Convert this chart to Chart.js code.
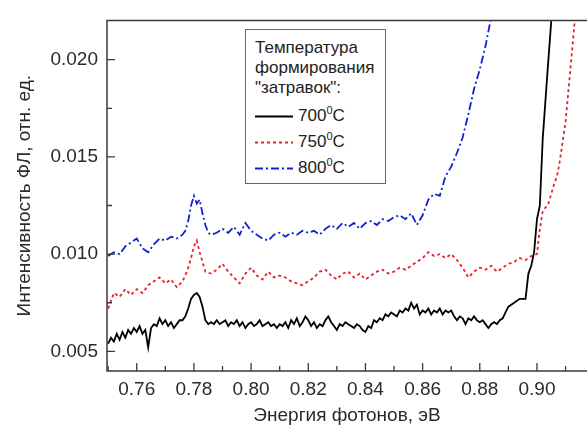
<!DOCTYPE html>
<html>
<head>
<meta charset="utf-8">
<script src="https://cdn.jsdelivr.net/npm/chart.js@4.4.1/dist/chart.umd.min.js"></script>
<style>
  body { margin: 0; background: #fff; }
  #wrap { position: relative; width: 587px; height: 427px; }
  #legend {
    position: absolute; left: 245px; top: 29px; width: 139px; height: 153px;
    border: 1px solid #666; background: #fff;
    font-family: "Liberation Sans", Arial, sans-serif; font-size: 17px; color: #222;
  }
  #legend .ttl { position: absolute; left: 9px; top: 8px; line-height: 20px; }
  #legend .row { position: absolute; left: 9px; height: 20px; line-height: 20px; }
  #legend .row svg { position: absolute; left: 0; top: 9px; }
  #legend .row span { position: absolute; left: 43px; top: 0; white-space: nowrap; }
  #legend sup { font-size: 11px; vertical-align: 7px; line-height: 0; }
</style>
</head>
<body>
<div id="wrap">
  <canvas id="myChart" width="587" height="427"></canvas>
  <div id="legend">
    <div class="ttl">Температура<br>формирования<br>"затравок":</div>
    <div class="row" style="top:76px"><svg width="38" height="3"><line x1="0" y1="1.5" x2="38" y2="1.5" stroke="#000" stroke-width="2"/></svg><span>700<sup>0</sup>C</span></div>
    <div class="row" style="top:102px"><svg width="38" height="3"><line x1="0" y1="1.5" x2="38" y2="1.5" stroke="#e8202a" stroke-width="2" stroke-dasharray="3,3"/></svg><span>750<sup>0</sup>C</span></div>
    <div class="row" style="top:128px"><svg width="38" height="3"><line x1="0" y1="1.5" x2="38" y2="1.5" stroke="#1020d0" stroke-width="2" stroke-dasharray="8,3,2,3"/></svg><span>800<sup>0</sup>C</span></div>
  </div>
</div>
<script>
// photon energy, eV / PL intensity, arb. units
var x700 = [0.750,0.751,0.752,0.753,0.754,0.755,0.756,0.757,0.758,0.759,
            0.760,0.761,0.762,0.763,0.764,0.765,0.766,0.767,0.768,0.769,
            0.770,0.771,0.772,0.773,0.774,0.775,0.776,0.777,0.778,0.779,
            0.780,0.781,0.782,0.783,0.784,0.785,0.786,0.787,0.788,0.789,
            0.790,0.791,0.792,0.793,0.794,0.795,0.796,0.797,0.798,0.799,
            0.800,0.801,0.802,0.803,0.804,0.805,0.806,0.807,0.808,0.809,
            0.810,0.811,0.812,0.813,0.814,0.815,0.816,0.817,0.818,0.819,
            0.820,0.821,0.822,0.823,0.824,0.825,0.826,0.827,0.828,0.829,
            0.830,0.831,0.832,0.833,0.834,0.835,0.836,0.837,0.838,0.839,
            0.840,0.841,0.842,0.843,0.844,0.845,0.846,0.847,0.848,0.849,
            0.850,0.851,0.852,0.853,0.854,0.855,0.856,0.857,0.858,0.859,
            0.860,0.861,0.862,0.863,0.864,0.865,0.866,0.867,0.868,0.869,
            0.870,0.871,0.872,0.873,0.874,0.875,0.876,0.877,0.878,0.879,
            0.880,0.881,0.882,0.883,0.884,0.885,0.886,0.887,0.888,0.889,
            0.890,0.891,0.892,0.893,0.894,0.895,0.896,0.897,0.898,0.899,
            0.900,0.901,0.902,0.9035,0.905,0.906];
var y700 = [0.0054,0.0057,0.0055,0.0059,0.0056,0.0060,0.0057,0.0061,0.0059,0.0062,
            0.0060,0.0063,0.0059,0.0061,0.0052,0.0062,0.0064,0.0063,0.0067,0.0064,
            0.0066,0.0063,0.0065,0.0062,0.0064,0.0066,0.0066,0.0068,0.0072,0.0077,
            0.0079,0.0080,0.0078,0.0073,0.0066,0.0064,0.0065,0.0064,0.0066,0.0064,
            0.0065,0.0066,0.0063,0.0065,0.0064,0.0066,0.0063,0.0065,0.0062,0.0064,
            0.0065,0.0063,0.0064,0.0066,0.0063,0.0064,0.0065,0.0063,0.0064,0.0062,
            0.0064,0.0063,0.0065,0.0062,0.0066,0.0064,0.0067,0.0063,0.0065,0.0068,
            0.0066,0.0063,0.0065,0.0062,0.0064,0.0063,0.0066,0.0068,0.0065,0.0063,
            0.0061,0.0064,0.0063,0.0065,0.0064,0.0063,0.0062,0.0064,0.0063,0.0061,
            0.0060,0.0063,0.0062,0.0066,0.0065,0.0067,0.0066,0.0069,0.0068,0.0070,
            0.0069,0.0068,0.0071,0.0070,0.0072,0.0071,0.0075,0.0072,0.0074,0.0069,
            0.0071,0.0070,0.0072,0.0069,0.0071,0.0070,0.0072,0.0069,0.0071,0.0070,
            0.0071,0.0068,0.0066,0.0068,0.0067,0.0064,0.0067,0.0066,0.0068,0.0066,
            0.0065,0.0066,0.0064,0.0062,0.0064,0.0065,0.0064,0.0066,0.0067,0.0070,
            0.0073,0.0074,0.0075,0.0076,0.0077,0.0077,0.0077,0.0090,0.0094,0.0101,
            0.0118,0.0125,0.0159,0.0190,0.0220,0.0245];

var x750 = [0.750,0.752,0.754,0.756,0.758,0.760,0.762,0.764,0.766,0.768,
            0.770,0.772,0.774,0.776,0.777,0.778,0.779,0.780,0.781,0.782,
            0.783,0.784,0.786,0.788,
            0.790,0.792,0.794,0.796,0.798,0.800,0.802,0.804,0.806,0.808,
            0.810,0.812,0.814,0.816,0.818,0.820,0.822,0.824,0.826,0.828,
            0.830,0.832,0.834,0.836,0.838,0.840,0.842,0.844,0.846,0.848,
            0.850,0.852,0.854,0.856,0.858,0.860,0.862,0.864,0.866,0.868,
            0.870,0.872,0.874,0.876,0.878,0.880,0.882,0.884,0.886,0.888,
            0.890,0.892,0.894,0.896,0.898,0.900,0.901,0.902,0.904,0.906,
            0.907,0.908,0.910,0.912,0.9135];
var y750 = [0.0072,0.0080,0.0078,0.0082,0.0079,0.0082,0.0080,0.0084,0.0086,0.0088,
            0.0085,0.0087,0.0083,0.0086,0.0089,0.0093,0.0098,0.0104,0.0107,0.0101,
            0.0096,0.0091,0.0090,0.0092,
            0.0095,0.0091,0.0088,0.0085,0.0090,0.0093,0.0089,0.0087,0.0091,0.0088,
            0.0089,0.0088,0.0086,0.0085,0.0084,0.0086,0.0088,0.0091,0.0092,0.0089,
            0.0087,0.0090,0.0091,0.0088,0.0090,0.0087,0.0089,0.0091,0.0092,0.0090,
            0.0091,0.0093,0.0092,0.0094,0.0096,0.0098,0.0101,0.0099,0.0100,0.0098,
            0.0100,0.0097,0.0093,0.0088,0.0091,0.0093,0.0092,0.0094,0.0091,0.0093,
            0.0095,0.0096,0.0098,0.0097,0.0099,0.0100,0.0113,0.0122,0.0126,0.0136,
            0.0140,0.0148,0.0168,0.0200,0.0225];

var x800 = [0.750,0.752,0.754,0.756,0.758,0.760,0.762,0.764,0.766,0.768,
            0.770,0.772,0.774,0.776,0.777,0.778,0.779,0.780,0.781,0.782,
            0.783,0.784,0.785,0.786,0.788,
            0.790,0.792,0.794,0.796,0.798,0.800,0.802,0.804,0.806,0.808,
            0.810,0.812,0.814,0.816,0.818,0.820,0.822,0.824,0.826,0.828,
            0.830,0.832,0.834,0.836,0.838,0.840,0.842,0.844,0.846,0.848,
            0.850,0.852,0.854,0.856,0.858,0.860,0.862,0.864,0.866,0.868,
            0.870,0.872,0.874,0.876,0.878,0.880,0.882,0.884,0.885];
var y800 = [0.0099,0.0101,0.0100,0.0104,0.0106,0.0108,0.0103,0.0101,0.0105,0.0108,
            0.0107,0.0109,0.0108,0.0110,0.0112,0.0117,0.0125,0.0130,0.0126,0.0128,
            0.0121,0.0115,0.0111,0.0110,0.0111,
            0.0113,0.0111,0.0114,0.0110,0.0116,0.0112,0.0110,0.0108,0.0107,0.0110,
            0.0111,0.0109,0.0111,0.0110,0.0112,0.0111,0.0112,0.0110,0.0113,0.0115,
            0.0113,0.0116,0.0114,0.0116,0.0113,0.0116,0.0117,0.0115,0.0118,0.0117,
            0.0119,0.0120,0.0118,0.0121,0.0115,0.0120,0.0128,0.0131,0.0130,0.0140,
            0.0145,0.0152,0.0160,0.0172,0.0185,0.0195,0.0207,0.0222,0.0232];

// axis ticks
var xTicks = [0.76, 0.78, 0.80, 0.82, 0.84, 0.86, 0.88, 0.90];
var xMinor = [0.75, 0.77, 0.79, 0.81, 0.83, 0.85, 0.87, 0.89, 0.91];
var yTicks = [0.005, 0.010, 0.015, 0.020];
var yMinor = [0.0075, 0.0125, 0.0175];

function pts(xs, ys) {
    var out = [];
    for (var i = 0; i < xs.length; i++) out.push({x: xs[i], y: ys[i]});
    return out;
}

var axisColor = "#3a3a3a";
var fontName = "'Liberation Sans', Arial, sans-serif";

// frame + inward tick marks
var framePlugin = {
    id: "frame",
    afterDraw: function (chart) {
        var ctx = chart.ctx, a = chart.chartArea;
        var xs = chart.scales.x, ys = chart.scales.y;
        ctx.save();
        ctx.strokeStyle = axisColor;
        ctx.lineWidth = 1.5;
        ctx.beginPath();
        ctx.moveTo(chart.width, a.top);
        ctx.lineTo(a.left, a.top);
        ctx.lineTo(a.left, a.bottom);
        ctx.lineTo(chart.width, a.bottom);
        ctx.stroke();
        ctx.lineWidth = 1.3;
        ctx.beginPath();
        xTicks.forEach(function (v) {
            var p = xs.getPixelForValue(v);
            ctx.moveTo(p, a.bottom); ctx.lineTo(p, a.bottom - 8);
        });
        xMinor.forEach(function (v) {
            var p = xs.getPixelForValue(v);
            if (p > a.left + 1 && p < a.right) { ctx.moveTo(p, a.bottom); ctx.lineTo(p, a.bottom - 5); }
        });
        yTicks.forEach(function (v) {
            var p = ys.getPixelForValue(v);
            ctx.moveTo(a.left, p); ctx.lineTo(a.left + 8, p);
        });
        yMinor.forEach(function (v) {
            var p = ys.getPixelForValue(v);
            ctx.moveTo(a.left, p); ctx.lineTo(a.left + 5, p);
        });
        ctx.stroke();
        ctx.restore();
    }
};

var ctx = document.getElementById("myChart").getContext("2d");
var myChart = new Chart(ctx, {
    type: "scatter",
    data: {
        datasets: [{
                label: "700°C",
                data: pts(x700, y700),
                borderColor: "#000000",
                borderWidth: 1.8
            }, {
                label: "750°C",
                data: pts(x750, y750),
                borderColor: "#e8202a",
                borderWidth: 1.8,
                borderDash: [3, 3]
            }, {
                label: "800°C",
                data: pts(x800, y800),
                borderColor: "#1020d0",
                borderWidth: 1.8,
                borderDash: [8, 3, 2, 3]
            }]
    },
    options: {
        responsive: false,
        animation: false,
        devicePixelRatio: 1,
        showLine: true,
        elements: {point: {radius: 0, hoverRadius: 0}, line: {tension: 0}},
        layout: {padding: {top: 14, right: 0, left: 0, bottom: 0}},
        plugins: {legend: {display: false}, tooltip: {enabled: false}},
        scales: {
            x: {
                type: "linear",
                min: 0.7496,
                max: 0.9175,
                grid: {display: false, drawTicks: false},
                border: {display: false},
                afterBuildTicks: function (s) {
                    s.ticks = xTicks.map(function (v) { return {value: v}; });
                },
                afterFit: function (s) { s.height = 56; },
                ticks: {
                    padding: 7,
                    color: "#2a2a2a",
                    font: {family: fontName, size: 19},
                    maxRotation: 0,
                    autoSkip: false,
                    callback: function (v) { return v.toFixed(2); }
                },
                title: {
                    display: true,
                    text: "Энергия фотонов, эВ",
                    color: "#2a2a2a",
                    font: {family: fontName, size: 19},
                    padding: {top: 0, bottom: 0}
                }
            },
            y: {
                type: "linear",
                min: 0.00399,
                max: 0.02202,
                grid: {display: false, drawTicks: false},
                border: {display: false},
                afterBuildTicks: function (s) {
                    s.ticks = yTicks.map(function (v) { return {value: v}; });
                },
                afterFit: function (s) { s.width = 107; },
                ticks: {
                    padding: 9,
                    color: "#2a2a2a",
                    font: {family: fontName, size: 19},
                    autoSkip: false,
                    callback: function (v) { return v.toFixed(3); }
                },
                title: {
                    display: true,
                    text: "Интенсивность ФЛ, отн. ед.",
                    color: "#2a2a2a",
                    font: {family: fontName, size: 19},
                    padding: {top: 13, bottom: 0}
                }
            }
        }
    },
    plugins: [framePlugin]
});
</script>
</body>
</html>
